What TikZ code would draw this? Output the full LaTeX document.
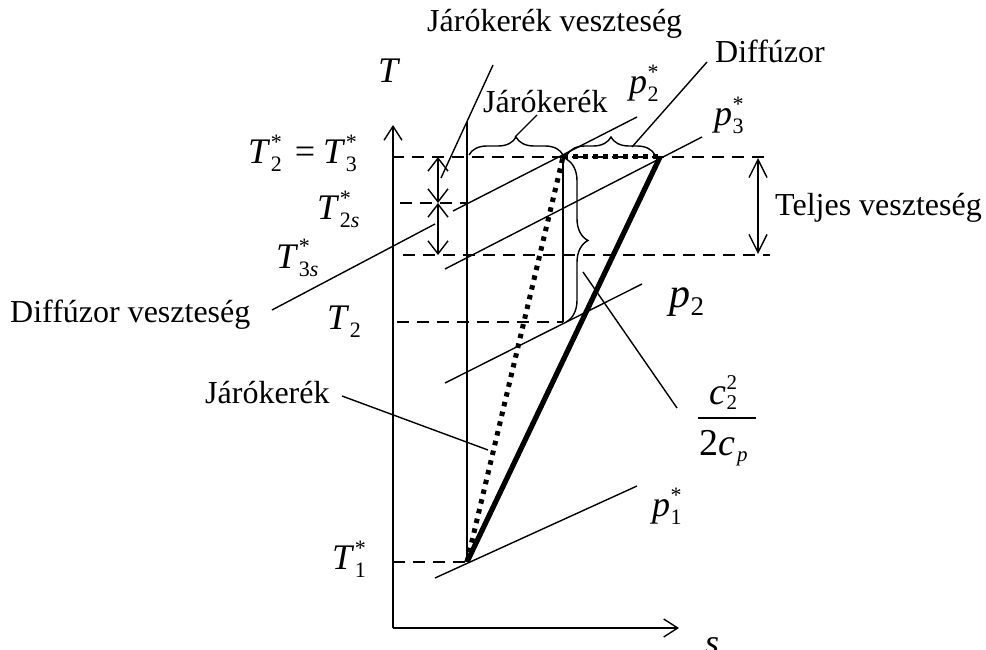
\documentclass[tikz,border=0pt]{standalone}
\usepackage{fontspec}
\setmainfont{Liberation Serif}
\usetikzlibrary{arrows.meta,decorations.pathreplacing}
\newcommand{\SupSub}[3]{\textit{#1}\kern0.5pt\rlap{\raisebox{14pt}{\fontsize{22}{22}\selectfont #3}}\raisebox{-8pt}{\fontsize{22}{22}\selectfont #2}}
\newcommand{\SubOnly}[2]{\textit{#1}\kern0.5pt\raisebox{-8pt}{\fontsize{22}{22}\selectfont #2}}
\begin{document}
\begin{tikzpicture}[x=1pt,y=-1pt,
  ln/.style={line width=1.4pt},
  dashln/.style={line width=1.4pt, dash pattern=on 12pt off 8pt},
  thickln/.style={line width=5.2pt},
  dotln/.style={line width=5pt, dash pattern=on 4.5pt off 5.5pt},
  txt/.style={inner sep=0pt, anchor=base west, font=\fontsize{32}{38}\selectfont},
  lab/.style={inner sep=0pt, anchor=base west, font=\fontsize{36}{40}\selectfont},
  brc/.style={line width=1.4pt, decorate, decoration={brace, amplitude=18pt}},
  >={Straight Barb[length=14pt,width=18pt]}]
\fill[white] (0,0) rectangle (986,650);
\useasboundingbox (0,0) rectangle (986,650);

% key points
\coordinate (O) at (393,628);
\coordinate (Ytop) at (393,125);
\coordinate (Xend) at (679,628);
\coordinate (P1) at (467,562);
\coordinate (P2s) at (563,157);
\coordinate (P3s) at (660,157);
\coordinate (P2) at (563,322);
\coordinate (V1top) at (467,122);

% axes
\draw[ln,->] (O) -- (Ytop);
\draw[ln,->] (O) -- (Xend);
\node[lab] (Tax) at (378,83) {\textit{T}};
\node[lab] (sax) at (705,654) {\textit{s}};

% isentrope from 1
\draw[ln] (P1) -- (V1top);
% vertical from 2* to 2
\draw[ln] (P2s) -- (P2);

% dashed levels
\coordinate (d1a) at (392,157); \coordinate (d1b) at (767,157);
\coordinate (d2a) at (400,203); \coordinate (d2b) at (467,203);
\coordinate (d3a) at (403,255); \coordinate (d3b) at (770,255);
\coordinate (d4a) at (397,322);
\coordinate (d5a) at (393,562);
\draw[dashln] (d1a) -- (d1b);
\draw[dashln] (d2a) -- (d2b);
\draw[dashln] (d3a) -- (d3b);
\draw[dashln] (d4a) -- (P2);
\draw[dashln] (d5a) -- (P1);

% isobars
\coordinate (i1a) at (435,578); \coordinate (i1b) at (637,486);
\coordinate (i2a) at (453,211); \coordinate (i2b) at (637,117);
\coordinate (i3a) at (445,269); \coordinate (i3b) at (702,137);
\coordinate (i4a) at (445,383); \coordinate (i4b) at (642,284);
\draw[ln] (i1a) -- (i1b);
\draw[ln] (i2a) -- (i2b);
\draw[ln] (i3a) -- (i3b);
\draw[ln] (i4a) -- (i4b);

% process lines
\draw[thickln] (P1) -- (P3s);
\draw[dotln] (P1) -- (P2s);
\draw[dotln] (P2s) -- (P3s);

% braces
\coordinate (b1a) at (469,155); \coordinate (b1b) at (563,155);
\coordinate (b2a) at (567,155); \coordinate (b2b) at (655,155);
\coordinate (b3a) at (566,159); \coordinate (b3b) at (566,322);
\draw[brc] (b1a) -- (b1b);
\draw[brc] (b2a) -- (b2b);
\draw[brc,decoration={brace,amplitude=22pt}] (b3a) -- (b3b);

% double arrows
\coordinate (a1) at (438,157); \coordinate (a2) at (438,203); \coordinate (a3) at (438,255);
\draw[ln,<->,>={Straight Barb[length=13pt,width=20pt]}] (a1) -- (a2);
\draw[ln,<->,>={Straight Barb[length=13pt,width=20pt]}] (a2) -- (a3);
\coordinate (t1) at (758,158); \coordinate (t2) at (758,254);
\draw[ln,<->,>={Straight Barb[length=18pt,width=18pt]}] (t1) -- (t2);

% text labels
\node[txt] (jv) at (427,32) {Járókerék veszteség};
\node[txt] (diff) at (715,63) {Diffúzor};
\node[txt] (jk1) at (483,113) {Járókerék};
\node[txt] (tv) at (775,215) {Teljes veszteség};
\node[txt] (dv) at (10,322) {Diffúzor veszteség};
\node[txt] (jk2) at (205,403) {Járókerék};

% leaders
\coordinate (l1a) at (493,65); \coordinate (l1b) at (441,178);
\coordinate (l2a) at (515,137); \coordinate (l2b) at (537,115);
\coordinate (l3a) at (632,147); \coordinate (l3b) at (707,62);
\coordinate (l4a) at (272,310); \coordinate (l4b) at (435,224);
\coordinate (l5a) at (342,396); \coordinate (l5b) at (488,450);
\coordinate (l6a) at (583,272); \coordinate (l6b) at (677,408);
\draw[ln] (l1a) -- (l1b);
\draw[ln] (l2a) -- (l2b);
\draw[ln] (l3a) -- (l3b);
\draw[ln] (l4a) -- (l4b);
\draw[ln] (l5a) -- (l5b);
\draw[ln] (l6a) -- (l6b);

% math labels
\node[lab] (T23) at (248,164) {\SupSub{T}{2}{*}\kern13pt=\kern8pt\SupSub{T}{3}{*}};
\node[lab] (T2s) at (317,219) {\SupSub{T}{2\textit{s}}{*}};
\node[lab] (T3s) at (276,268) {\SupSub{T}{3\textit{s}}{*}};
\node[lab] (T2) at (327,329) {\SubOnly{T}{2}};
\node[lab] (T1) at (332,569) {\SupSub{T}{1}{*}};
\node[lab] (p2s) at (629,94) {\SupSub{p}{2}{*}};
\node[lab] (p3s) at (714,126) {\SupSub{p}{3}{*}};
\node[lab] (p1s) at (652,516) {\SupSub{p}{1}{*}};
\node[lab,font=\fontsize{42}{46}\selectfont] (p2) at (669,307) {\textit{p}\kern0.5pt\raisebox{-8pt}{\fontsize{27}{27}\selectfont 2}};
\node[lab,font=\fontsize{38}{40}\selectfont] (num) at (709,404) {\textit{c}\kern0.5pt\rlap{\raisebox{15pt}{\fontsize{21}{21}\selectfont 2}}\raisebox{-5pt}{\fontsize{21}{21}\selectfont 2}};
\coordinate (fb1) at (698,418); \coordinate (fb2) at (756,418);
\draw[line width=1.2pt] (fb1) -- (fb2);
\node[lab,font=\fontsize{38}{40}\selectfont] (den) at (699,455) {2\textit{c}\kern2pt\raisebox{-6pt}{\fontsize{21}{21}\selectfont\textit{p}}};
\end{tikzpicture}
\end{document}
